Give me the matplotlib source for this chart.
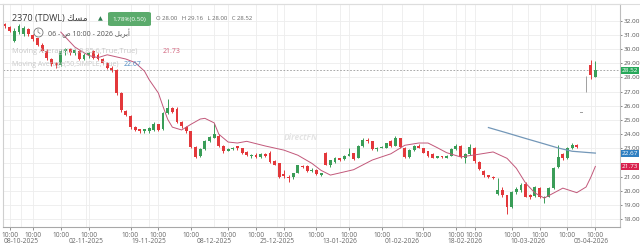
import matplotlib
matplotlib.use("Agg")
import matplotlib.pyplot as plt
import matplotlib.transforms as mtransforms
from matplotlib.patches import FancyBboxPatch
from matplotlib.lines import Line2D
import numpy as np

# daily candles
opens = [31.75, 31.55, 30.6, 31.2, 31.1, 31.45, 31.0, 30.75, 30.3, 29.9,
         29.3, 29.0, 28.9, 29.9, 30.0, 29.75, 29.9, 29.3, 29.55, 29.9,
         29.6, 29.3, 29.05, 28.7, 28.5, 26.9, 25.65, 25.3, 24.5, 24.35,
         24.2, 24.2, 24.3, 24.7, 24.4, 25.5, 25.85, 25.8, 24.85, 24.5,
         24.2, 23.1, 22.5, 22.95, 23.5, 23.75, 23.9, 23.2, 22.85, 22.95,
         23.15, 23.0, 22.75, 22.45, 22.55, 22.4, 22.6, 22.7, 22.1, 21.95,
         21.2, 21.0, 20.95, 21.3, 21.75, 21.75, 21.4, 21.5, 21.15, 22.7,
         21.85, 22.05, 22.3, 22.25, 22.5, 22.65, 22.35, 23.15, 23.6, 23.5,
         22.95, 23.05, 23.05, 23.55, 23.2, 23.7, 23.05, 22.4, 22.9, 23.2,
         23.0, 22.8, 22.6, 22.35, 22.45, 22.35, 22.5, 22.95, 23.2, 22.3,
         22.6, 23.05, 22.05, 21.4, 21.1, 21.0, 19.8, 20.05, 19.7, 18.85,
         19.9, 20.05, 20.5, 19.7, 19.65, 20.2, 19.5, 19.6, 20.2, 21.7,
         22.6, 22.3, 23.0, 23.25, 25.5, 28.0, 28.9, 28.0]
highs = [31.85, 31.6, 31.5, 31.75, 31.6, 31.5, 31.1, 30.8, 30.4, 30.0,
         29.4, 29.1, 30.0, 30.1, 30.05, 30.0, 30.0, 29.7, 29.8, 29.95,
         29.7, 29.4, 29.1, 28.8, 28.6, 26.95, 25.7, 25.35, 24.55, 24.4,
         24.4, 24.5, 24.85, 24.75, 25.6, 26.5, 25.95, 25.9, 24.95, 24.55,
         24.25, 23.15, 23.0, 23.6, 23.9, 24.8, 24.0, 23.25, 23.0, 23.1,
         23.2, 23.05, 22.8, 22.6, 22.65, 22.65, 22.7, 22.8, 22.15, 22.0,
         21.5, 21.1, 21.3, 21.85, 21.85, 21.8, 21.6, 21.55, 21.3, 22.75,
         22.2, 22.4, 22.35, 22.55, 23.0, 22.7, 23.25, 23.7, 23.7, 23.55,
         23.1, 23.2, 23.4, 23.6, 23.85, 23.75, 23.1, 22.95, 23.25, 23.3,
         23.05, 22.85, 22.65, 22.5, 22.5, 22.55, 23.0, 23.3, 23.25, 22.65,
         23.3, 23.1, 22.1, 21.5, 21.15, 21.05, 20.9, 20.25, 19.75, 20.0,
         20.25, 20.55, 20.6, 19.8, 20.35, 20.3, 19.65, 20.25, 21.7, 23.25,
         22.7, 23.1, 23.35, 23.3, 25.5, 28.1, 29.2, 29.16]
lows = [31.5, 31.2, 30.5, 31.1, 30.9, 30.9, 30.6, 30.2, 29.8, 29.2,
        28.8, 28.7, 28.8, 29.6, 29.6, 29.6, 29.2, 29.2, 29.4, 29.3,
        29.25, 28.95, 28.6, 28.4, 26.8, 25.6, 25.3, 24.4, 24.2, 24.1,
        24.1, 24.1, 24.25, 24.2, 24.3, 25.4, 25.5, 24.8, 24.45, 24.1,
        23.0, 22.3, 22.4, 22.9, 23.45, 23.7, 23.1, 22.7, 22.8, 22.9,
        22.9, 22.6, 22.5, 22.35, 22.35, 22.3, 22.4, 22.0, 21.8, 20.9,
        20.9, 20.6, 20.85, 21.25, 21.6, 21.35, 21.35, 21.1, 21.05, 21.8,
        21.7, 22.0, 22.1, 22.2, 22.45, 22.2, 22.3, 23.1, 23.4, 22.9,
        22.85, 23.0, 23.0, 23.1, 23.15, 23.0, 22.3, 22.3, 22.85, 23.0,
        22.65, 22.4, 22.3, 22.3, 22.35, 22.3, 22.45, 22.9, 22.35, 22.0,
        22.55, 22.0, 21.5, 21.0, 20.9, 20.85, 19.7, 19.6, 18.4, 18.8,
        19.8, 19.95, 19.55, 19.45, 19.6, 19.5, 19.15, 19.55, 20.15, 21.65,
        22.2, 22.25, 22.95, 23.05, 25.5, 27.0, 27.9, 28.0]
closes = [31.6, 31.3, 31.3, 31.6, 31.5, 31.05, 30.7, 30.3, 29.9, 29.35,
          28.95, 28.85, 29.9, 30.0, 29.75, 29.95, 29.3, 29.6, 29.75, 29.4,
          29.3, 29.05, 28.7, 28.5, 26.9, 25.7, 25.35, 24.5, 24.3, 24.2,
          24.35, 24.45, 24.7, 24.3, 25.5, 25.85, 25.6, 24.85, 24.55, 24.2,
          23.1, 22.4, 22.95, 23.55, 23.8, 24.0, 23.2, 22.8, 22.95, 23.05,
          23.0, 22.7, 22.55, 22.55, 22.4, 22.6, 22.45, 22.05, 21.85, 21.0,
          21.05, 20.9, 21.25, 21.8, 21.7, 21.4, 21.5, 21.2, 21.25, 21.85,
          22.15, 22.3, 22.2, 22.5, 22.6, 22.25, 23.2, 23.6, 23.55, 22.95,
          23.05, 23.1, 23.35, 23.15, 23.75, 23.1, 22.4, 22.9, 23.2, 23.05,
          22.7, 22.45, 22.35, 22.45, 22.4, 22.5, 22.95, 23.2, 22.4, 22.6,
          23.1, 22.1, 21.55, 21.1, 21.0, 20.9, 20.05, 19.75, 18.85, 19.95,
          20.15, 20.4, 19.6, 19.55, 20.25, 19.6, 19.6, 20.2, 21.65, 22.4,
          22.3, 23.05, 23.25, 23.1, 25.5, 28.0, 28.2, 28.52]

# moving averages (candle index, value)
ma21_idx = [12, 15, 18, 20, 22, 24, 26, 28, 30, 31, 33, 34, 35, 36, 38, 40,
            42, 43, 45, 46, 48, 50, 52, 56, 60, 63, 66, 68, 70, 72, 75, 79,
            83, 86, 89, 91, 93, 95, 98, 101, 105, 108, 110, 112, 114, 116,
            118, 120, 123, 125, 126, 127]
ma21_val = [31.2, 30.15, 29.55, 29.4, 29.6, 29.45, 29.3, 29.05, 28.45, 27.85,
            26.9, 25.95, 25.05, 24.5, 24.3, 24.7, 25.07, 25.12, 24.8, 24.0,
            23.45, 23.38, 23.5, 23.17, 22.88, 22.52, 21.95, 21.45, 21.12,
            21.27, 21.5, 22.18, 22.62, 23.22, 23.38, 23.38, 23.05, 22.7, 22.4,
            22.54, 22.75, 22.3, 21.6, 20.55, 19.86, 19.5, 19.85, 20.2, 19.88,
            20.28, 20.95, 21.73]
sma_idx = [104, 108, 112, 116, 119, 122, 125, 127]
sma_val = [24.47, 24.09, 23.7, 23.32, 23.03, 22.8, 22.72, 22.67]

time_ticks = [1, 6, 12, 18, 27, 33, 40, 48, 54, 60, 67, 74, 81, 90, 97, 101,
              109, 115, 121, 127]
date_ticks = [3.5, 17.5, 31, 45, 58.5, 72, 85.5, 99, 112.5, 126]
date_labels = ["08-10-2025", "02-11-2025", "19-11-2025", "08-12-2025",
               "25-12-2025", "13-01-2026", "01-02-2026", "18-02-2026",
               "10-03-2026", "05-04-2026"]
price_ticks = list(range(18, 33))

last_price = 28.52
ma21_last = 21.73
sma_last = 22.67

UP = '#3a9d58'
DOWN = '#e3383b'
FLAT = '#a0a0a0'
MA_RED = '#c2587a'
MA_BLUE = '#7397b8'

plt.rcParams['font.family'] = ['Open Sans', 'DejaVu Sans']


def main():
    fig = plt.figure(figsize=(6.4, 2.47), dpi=100)
    ax = fig.add_axes([3 / 640, 20 / 247, 617 / 640, 223 / 247])

    o = np.array(opens)
    c = np.array(closes)
    x = np.arange(len(o))
    colors = [UP if cc > oo else DOWN if cc < oo else FLAT for oo, cc in zip(o, c)]

    ax.vlines(x, lows, highs, colors=colors, linewidth=0.7, zorder=3)
    ax.bar(x, np.maximum(np.abs(c - o), 0.05), bottom=np.minimum(o, c), width=0.62,
           color=colors, linewidth=0, zorder=4)

    ax.plot(ma21_idx, ma21_val, color=MA_RED, linewidth=0.7, zorder=5)
    ax.plot(sma_idx, sma_val, color=MA_BLUE, linewidth=0.9, zorder=5)

    ax.axhline(last_price, color='#9a9a9a', linestyle=(0, (2, 2)), linewidth=0.6, zorder=2)

    ax.set_xlim(-0.43, 132.3)
    ax.set_ylim(17.46, 33.18)

    # the 22.00 label sits under the two MA price tags
    ax.set_yticks(price_ticks)
    ax.set_yticklabels(["" if v == 22 else "%.2f" % v for v in price_ticks])
    ax.yaxis.tick_right()
    ax.tick_params(axis='y', labelsize=4.6, colors='#555555', length=1.5, pad=1.2, width=0.5)
    ax.set_xticks(time_ticks)
    ax.set_xticklabels(["10:00"] * len(time_ticks))
    ax.tick_params(axis='x', labelsize=4.8, colors='#666666', length=2.5, pad=0.8, width=0.5)
    ax.grid(True, color='#ededed', linewidth=0.6, zorder=0)
    for d in date_ticks:
        ax.axvline(d, color='#ededed', linewidth=0.6, zorder=0)
    ax.set_axisbelow(True)

    for side, col in [('left', '#cfcfcf'), ('right', '#bdbdbd'), ('bottom', '#a8a8a8'), ('top', '#dddddd')]:
        ax.spines[side].set_color(col)
        ax.spines[side].set_linewidth(0.8)

    tr = mtransforms.blended_transform_factory(ax.transData, ax.transAxes)
    for d, lab in zip(date_ticks, date_labels):
        ax.text(d, -0.067, lab, transform=tr, ha='center', va='center',
                fontsize=4.8, color='#666666')

    # price tags on the right
    tr_y = mtransforms.blended_transform_factory(ax.transAxes, ax.transData)
    for val, col in [(last_price, '#27a85a'), (sma_last, '#2f7fc1'), (ma21_last, '#d9214e')]:
        ax.text(1.003, val, "%.2f" % val, transform=tr_y, ha='left', va='center',
                fontsize=4.6, color='white', zorder=10,
                bbox=dict(boxstyle='square,pad=0.15', fc=col, ec='none'))

    fig.add_artist(Line2D([0, 1], [1 - 4 / 247, 1 - 4 / 247], color='#dddddd',
                          linewidth=0.8, transform=fig.transFigure))

    def fx(px):
        return px / 640

    def fy(py):
        return 1 - py / 247

    # header
    fig.text(fx(12), fy(19), "2370 (TDWL) \uFEDA\uFEB4\uFEE3", fontsize=6.5,
             color='#3a3a3a', va='center', ha='left', zorder=10)
    fig.text(fx(98), fy(19), "\u25B2", fontsize=4.5, color='#2e7d4f',
             va='center', ha='left', family='DejaVu Sans')
    fig.add_artist(FancyBboxPatch((fx(108), fy(26)), fx(43), 14 / 247,
                                  boxstyle='round,pad=0,rounding_size=0.005',
                                  fc='#5bab6c', ec='none', transform=fig.transFigure))
    fig.text(fx(129.5), fy(19), "1.78%(0.50)", fontsize=4.5, color='white',
             va='center', ha='center')
    fig.text(fx(156), fy(19), "O 28.00   H 29.16   L 28.00   C 28.52", fontsize=4.3,
             color='#666666', va='center', ha='left')

    fig.add_artist(Line2D([fx(38)], [fy(32)], marker='o', markersize=6.5, mfc='none',
                          mec='#777777', mew=0.6, transform=fig.transFigure))
    fig.add_artist(Line2D([fx(38), fx(38), fx(40)], [fy(29.5), fy(32), fy(33.5)],
                          color='#777777', linewidth=0.5, transform=fig.transFigure))
    fig.text(fx(48), fy(33), "06 - \uFEB9 10:00 - 2026 \uFEDE\uFEF3\uFEAE\uFE91\uFE83",
             fontsize=5, color='#555555', va='center', ha='left')

    fig.text(fx(12), fy(51), "Moving Average(21,0,85,6,True,True)", fontsize=5.3,
             color='#c8c8c8', va='center', ha='left', zorder=1)
    fig.text(fx(163), fy(51), "21.73", fontsize=5, color='#d0607a', va='center', ha='left')
    fig.text(fx(12), fy(64), "Moving Average(50,SIMPLE,True)", fontsize=5,
             color='#c8c8c8', va='center', ha='left', zorder=1)
    fig.text(fx(124), fy(64), "22.67", fontsize=5, color='#4a88c0', va='center', ha='left')

    ax.text(0.483, 0.40, "DirectFN", transform=ax.transAxes, fontsize=6,
            color='#e4e4e4', style='italic', weight='bold', ha='center', va='center', zorder=1)

    fig.savefig("out.png", dpi=100)


if __name__ == '__main__':
    main()
